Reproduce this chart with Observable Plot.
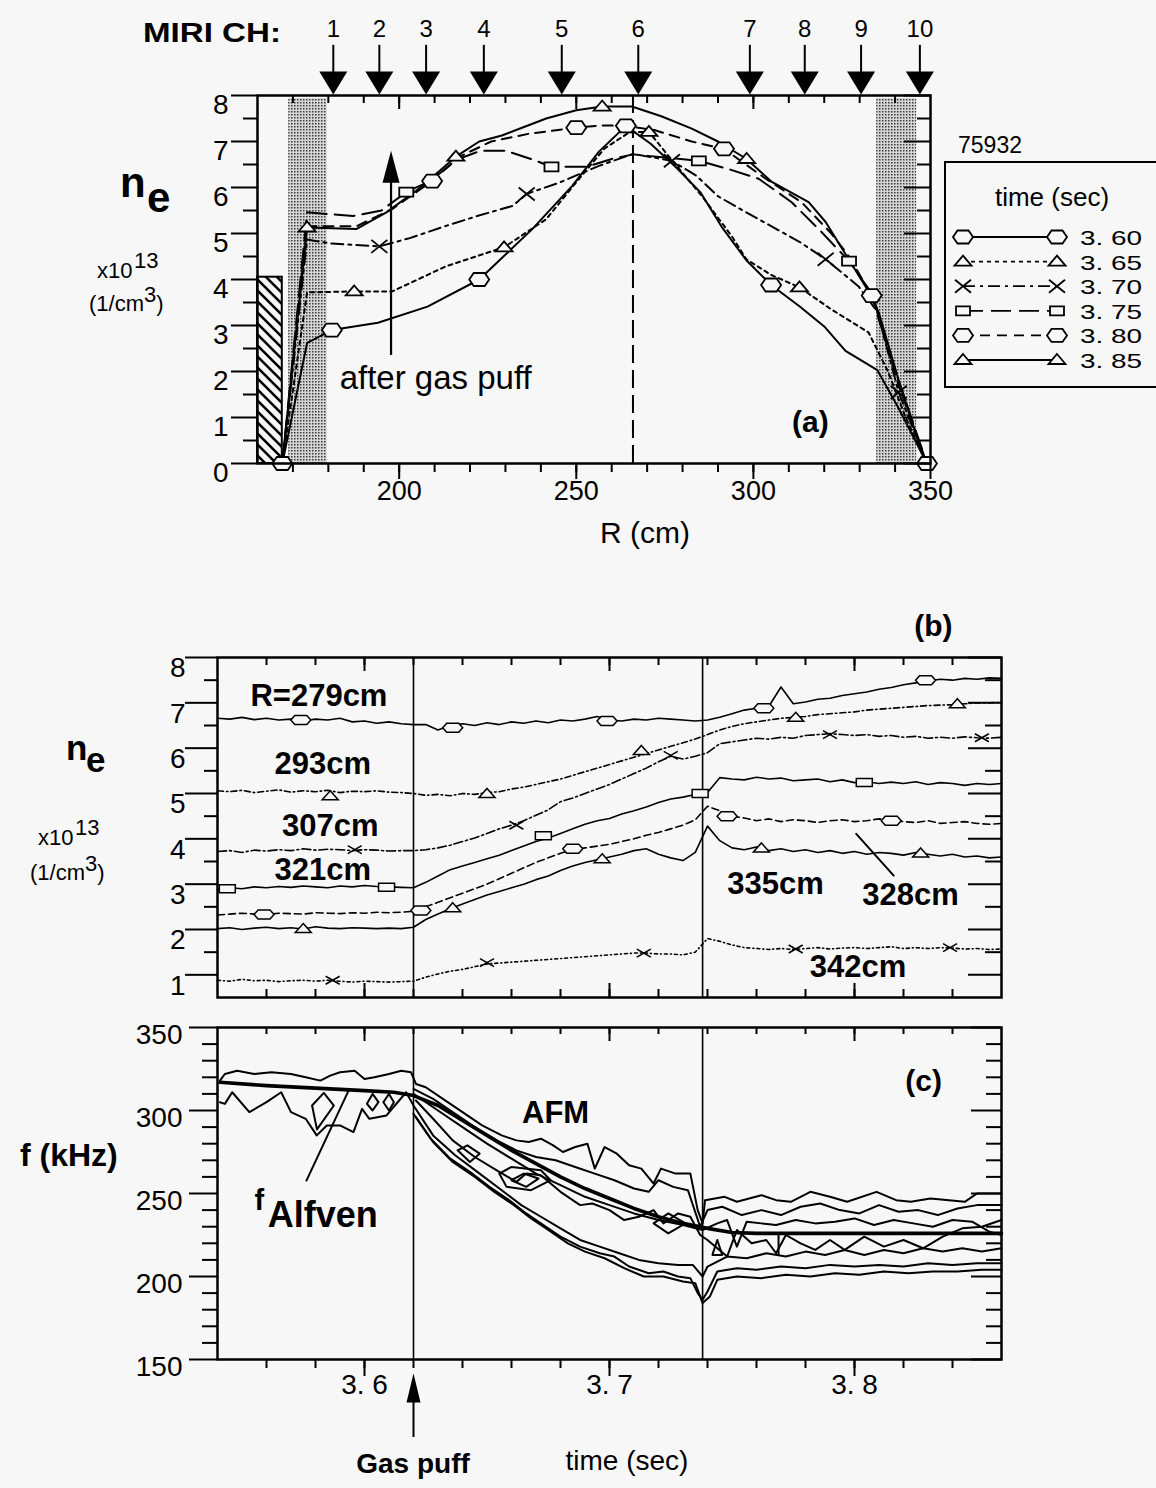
<!DOCTYPE html>
<html><head><meta charset="utf-8">
<script src="https://cdn.jsdelivr.net/npm/d3@7"></script>
<script src="https://cdn.jsdelivr.net/npm/@observablehq/plot@0.6"></script>
<style>
html,body{margin:0;padding:0;background:#f7f7f7;}
#page{position:relative;width:1156px;height:1488px;overflow:hidden;background:#f7f7f7;}
</style></head><body><div id="page"></div>
<script>
// ================= DATA =================
// ---- panel (a): density profiles ne(R) ----
const miriChannels = ["1","2","3","4","5","6","7","8","9","10"];
const miriR = [181.4,194.4,207.6,223.9,245.9,267.5,299.0,314.5,330.4,347.0];
const profileTimes = [3.60,3.65,3.70,3.75,3.80,3.85];
const prof360 = [[167,0],[174,2.62],[181,2.9],[194,3.06],[208,3.41],[222.6,4.0],[237.5,5.09],[248.8,6.03],[256.4,6.78],[264,7.34],[271,6.95],[278,6.45],[285,5.9],[291,5.15],[298,4.42],[305,3.88],[313,3.42],[320,2.98],[326,2.45],[335,2.03],[341,1.2],[349,0]];
const prof365 = [[167,0],[174,3.72],[187,3.74],[198,3.74],[213,4.28],[229.6,4.7],[241.5,5.31],[250.8,6.19],[258,6.85],[265,7.2],[270.5,7.21],[278,6.5],[285.5,5.81],[294,4.93],[298,4.44],[305,4.1],[313,3.83],[322,3.35],[332.5,2.85],[338,2.0],[343,1.0],[349,0]];
const prof370 = [[167,0],[174,4.87],[181,4.78],[194.4,4.72],[203,4.9],[213,5.16],[222,5.38],[232,5.6],[236,5.86],[245,6.1],[256.4,6.47],[266,6.73],[277,6.58],[284,6.25],[290,5.81],[297,5.5],[305,5.16],[313,4.82],[320.4,4.44],[329.7,3.85],[335,3.3],[341,1.55],[349,0]];
const prof375 = [[167,0],[174,5.46],[187,5.38],[195,5.5],[202,5.9],[209,6.15],[216,6.6],[223,6.8],[230,6.8],[238,6.6],[243,6.45],[253,6.45],[260,6.62],[266,6.72],[275,6.65],[284.6,6.58],[293,6.4],[301.5,6.19],[310.8,5.68],[319,5.05],[327,4.4],[333.4,3.7],[341,1.8],[349,0]];
const prof380 = [[167,0],[174,5.16],[188,5.16],[198,5.53],[209.3,6.14],[217,6.67],[226,7.0],[236.7,7.17],[250,7.3],[257,7.35],[264,7.34],[272,7.25],[282.6,7.0],[291.7,6.84],[303.5,6.19],[313.6,5.68],[322,5.0],[327,4.5],[333.4,3.65],[341,1.7],[349,0]];
const prof385 = [[167,0],[174,5.13],[188,5.1],[196.4,5.46],[206,6.0],[216,6.67],[222.6,7.0],[229,7.13],[241.5,7.5],[250,7.68],[257.3,7.76],[265.7,7.76],[274,7.55],[282.6,7.28],[290,7.0],[298.1,6.62],[305.2,6.12],[315.6,5.68],[320.4,5.25],[326.9,4.44],[333.4,3.63],[335.4,3.28],[341,1.81],[348.6,0]];
const mk360 = [[167,0],[181,2.9],[222.6,4.0],[264,7.34],[305,3.88],[349,0]];
const mk365 = [[187.3,3.74],[229.6,4.7],[270.5,7.21],[313,3.83]];
const mk370 = [[194.4,4.72],[236,5.86],[277,6.58],[320.4,4.44],[341,1.55]];
const mk375 = [[202,5.9],[243,6.45],[284.6,6.58],[327,4.4]];
const mk380 = [[209.3,6.14],[250,7.3],[291.7,6.84],[333.4,3.65]];
const mk385 = [[174,5.13],[216,6.67],[257.3,7.76],[298.1,6.62]];
const limiterBands = [[168.8,179.7],[334.8,346.1]];
const wallA = {r1:160, r2:167, top:4.05};
const centerR = [266];
const puffArrowA = {r:197.7, base:2.35, head:6.12, tip:6.8};
const neTicksA = [0,1,2,3,4,5,6,7,8];
const neMinorA = [0.5,1.5,2.5,3.5,4.5,5.5,6.5,7.5];
const rTicks = [170,180,190,200,210,220,230,240,250,260,270,280,290,300,310,320,330,340];
const rLabels = [200,250,300,350];

// ---- panel (b): ne(t) at several radii ----
const traceT = [3.540,3.545,3.550,3.555,3.560,3.565,3.570,3.575,3.580,3.585,3.590,3.595,3.600,3.605,3.610,3.615,3.620,
 3.625,3.630,3.635,3.640,3.645,3.650,3.655,3.660,3.665,3.670,3.675,3.680,3.685,3.690,3.695,3.700,3.705,3.710,3.715,3.720,3.725,3.730,3.735,3.740,
 3.745,3.750,3.755,3.760,3.765,3.770,3.775,3.780,3.785,3.790,3.795,3.800,3.805,3.810,3.815,3.820,3.825,3.830,3.835,3.840,3.845,3.850,3.855,3.860];
const ne279 = [6.66,6.64,6.68,6.63,6.66,6.62,6.64,6.60,6.64,6.62,6.66,6.58,6.60,6.55,6.58,6.54,6.52,
 6.52,6.40,6.50,6.54,6.50,6.56,6.52,6.58,6.55,6.60,6.56,6.62,6.60,6.64,6.70,6.62,6.60,6.64,6.62,6.66,6.64,6.62,6.60,6.62,
 6.68,6.76,6.84,6.88,6.92,7.35,6.98,7.02,7.08,7.10,7.16,7.20,7.24,7.30,7.34,7.40,7.44,7.48,7.52,7.50,7.54,7.52,7.55,7.54];
const ne293 = [5.06,5.04,5.07,5.02,5.05,5.08,5.03,5.06,5.04,5.07,5.02,5.05,5.04,5.06,5.03,5.02,5.00,
 4.96,4.98,4.95,5.00,4.98,5.02,5.04,5.10,5.14,5.20,5.26,5.32,5.40,5.48,5.56,5.64,5.72,5.80,5.88,5.96,6.04,6.12,6.20,6.30,
 6.40,6.48,6.54,6.58,6.62,6.66,6.68,6.70,6.74,6.76,6.78,6.80,6.84,6.86,6.88,6.90,6.92,6.94,6.95,6.96,6.98,7.00,7.00,7.01];
const ne307 = [3.72,3.74,3.70,3.75,3.73,3.76,3.74,3.78,3.75,3.77,3.76,3.74,3.76,3.75,3.73,3.74,3.74,
 3.76,3.80,3.86,3.94,4.02,4.12,4.22,4.30,4.40,4.52,4.64,4.82,4.90,5.00,5.10,5.20,5.32,5.44,5.56,5.70,5.82,5.76,5.82,5.90,
 6.10,6.14,6.18,6.22,6.20,6.24,6.22,6.28,6.30,6.32,6.30,6.28,6.30,6.26,6.28,6.24,6.26,6.22,6.24,6.22,6.25,6.23,6.22,6.24];
const ne321 = [2.88,2.92,2.90,2.94,2.92,2.95,2.93,2.96,2.94,2.92,2.96,2.94,2.97,2.95,2.94,2.93,2.92,
 3.04,3.18,3.32,3.40,3.48,3.56,3.64,3.74,3.84,3.94,4.02,4.12,4.22,4.32,4.40,4.45,4.55,4.62,4.70,4.80,4.88,4.92,4.98,5.02,
 5.35,5.32,5.30,5.36,5.32,5.34,5.28,5.30,5.32,5.26,5.30,5.24,5.26,5.22,5.25,5.22,5.26,5.20,5.24,5.22,5.18,5.22,5.20,5.22];
const ne328 = [2.32,2.34,2.36,2.34,2.33,2.36,2.35,2.34,2.37,2.36,2.35,2.37,2.36,2.38,2.37,2.38,2.40,
 2.50,2.60,2.70,2.80,2.90,3.00,3.12,3.24,3.36,3.48,3.58,3.68,3.76,3.80,3.84,3.88,3.94,4.00,4.08,4.14,4.22,4.30,4.42,4.72,
 4.62,4.50,4.46,4.40,4.44,4.38,4.42,4.40,4.36,4.40,4.42,4.38,4.40,4.44,4.40,4.38,4.36,4.40,4.34,4.36,4.38,4.34,4.32,4.34];
const ne335 = [2.02,2.04,2.00,2.03,2.05,2.02,2.04,2.01,2.06,2.03,2.02,2.04,2.03,2.02,2.03,2.02,2.05,
 2.22,2.34,2.46,2.56,2.66,2.76,2.84,2.92,3.00,3.10,3.18,3.30,3.40,3.48,3.54,3.60,3.66,3.74,3.78,3.66,3.58,3.52,3.70,4.28,
 3.96,3.80,3.76,3.82,3.74,3.78,3.72,3.76,3.70,3.74,3.68,3.72,3.66,3.70,3.68,3.64,3.70,3.66,3.62,3.66,3.60,3.62,3.58,3.60];
const ne342 = [0.88,0.86,0.90,0.87,0.88,0.85,0.87,0.88,0.86,0.88,0.86,0.84,0.86,0.85,0.84,0.85,0.86,
 0.95,1.02,1.08,1.12,1.18,1.24,1.26,1.28,1.30,1.32,1.34,1.36,1.38,1.40,1.42,1.44,1.46,1.48,1.48,1.46,1.46,1.44,1.50,1.80,
 1.74,1.66,1.60,1.58,1.56,1.58,1.56,1.58,1.60,1.57,1.59,1.60,1.58,1.60,1.62,1.58,1.60,1.58,1.60,1.59,1.57,1.58,1.56,1.57];
const mk279 = [[3.574,6.62],[3.636,6.45],[3.699,6.6],[3.763,6.88],[3.829,7.5]];
const mk293 = [[3.586,4.95],[3.650,5.0],[3.713,5.95],[3.776,6.68],[3.842,6.98]];
const mk307 = [[3.596,3.76],[3.662,4.3],[3.725,5.84],[3.790,6.30],[3.852,6.23]];
const mk321 = [[3.544,2.9],[3.609,2.93],[3.673,4.07],[3.737,5.0],[3.804,5.24]];
const mk328 = [[3.559,2.33],[3.623,2.42],[3.685,3.78],[3.748,4.5],[3.815,4.4]];
const mk335 = [[3.575,2.02],[3.636,2.48],[3.697,3.56],[3.762,3.8],[3.827,3.69]];
const mk342 = [[3.587,0.88],[3.650,1.27],[3.714,1.48],[3.776,1.57],[3.839,1.6]];
const eventTimes = [3.62, 3.738];
const neTicksB = [1,2,3,4,5,6,7,8];
const neMinorB = [1.5,2.5,3.5,4.5,5.5,6.5,7.5];
const timeTicks = [3.56,3.58,3.60,3.62,3.64,3.66,3.68,3.70,3.72,3.74,3.76,3.78,3.80,3.82,3.84];
const timeMajor = [3.6,3.7,3.8];
const labelsB = [
  {t:3.5814, v:7.14, s:"R=279cm"}, {t:3.583, v:5.66, s:"293cm"}, {t:3.586, v:4.29, s:"307cm"},
  {t:3.583, v:3.32, s:"321cm"}, {t:3.7678, v:3.0, s:"335cm"}, {t:3.8229, v:2.75, s:"328cm"},
  {t:3.8014, v:1.18, s:"342cm"}];
const pointer328 = [[3.8007,4.11],[3.816,3.19]];

// ---- panel (c): Alfven frequency and AFM contours ----
const fAlfven = [[3.541,317],[3.56,315],[3.58,313.5],[3.60,312],[3.612,311],[3.62,309],[3.63,303],[3.64,294],[3.65,285],[3.66,276],[3.67,268],[3.68,260],[3.69,253],[3.70,247],[3.71,241],[3.72,236],[3.73,232],[3.74,229],[3.75,226.5],[3.76,226],[3.78,226],[3.80,226],[3.82,226],[3.84,226],[3.86,226]];
const cTop = [[3.541,318],[3.543,322],[3.548,324],[3.555,322],[3.562,323],[3.570,322],[3.576,320],[3.582,318],[3.586,321],[3.590,323],[3.596,324],[3.600,319],[3.604,320],[3.610,322],[3.615,324],[3.619,323],[3.621,316],[3.625,314],[3.632,307],[3.640,299],[3.648,291],[3.656,285],[3.662,282],[3.667,281],[3.672,283],[3.677,279],[3.681,275],[3.686,278],[3.691,280],[3.694,265],[3.698,278],[3.703,274],[3.708,267],[3.713,265],[3.718,256],[3.721,265],[3.727,262],[3.733,262],[3.736,240],[3.738,232],[3.739,246],[3.747,248],[3.752,245],[3.762,249],[3.768,246],[3.774,245],[3.782,251],[3.790,248],[3.797,245],[3.809,251],[3.817,246],[3.823,245],[3.831,247],[3.845,245],[3.850,250],[3.860,250]];
const cSecond = [[3.620,313],[3.628,307],[3.636,299],[3.645,290],[3.654,282],[3.662,276],[3.670,272],[3.678,270],[3.686,266],[3.694,262],[3.702,258],[3.710,253],[3.716,251],[3.720,258],[3.726,254],[3.732,252],[3.737,230],[3.740,240],[3.746,242],[3.754,237],[3.762,240],[3.770,237],[3.778,242],[3.786,244],[3.794,240],[3.802,238],[3.810,243],[3.818,239],[3.826,240],[3.834,237],[3.842,241],[3.850,243],[3.860,243]];
const cMidA = [[3.620,310],[3.630,300],[3.640,290],[3.650,280],[3.660,271],[3.670,262],[3.680,255],[3.690,248],[3.700,243],[3.710,238],[3.720,234],[3.730,231],[3.738,228],[3.744,232],[3.748,234],[3.752,218],[3.756,233],[3.762,232],[3.768,231],[3.776,234],[3.784,232],[3.792,233],[3.800,235],[3.808,231],[3.816,234],[3.824,232],[3.832,230],[3.840,234],[3.848,233],[3.855,227],[3.860,225]];
const cMidB = [[3.621,306],[3.628,295],[3.636,282],[3.645,272],[3.655,263],[3.662,257],[3.666,262],[3.672,261],[3.680,251],[3.688,243],[3.693,244],[3.700,240],[3.706,234],[3.712,236],[3.718,240],[3.722,232],[3.728,238],[3.733,236],[3.737,225],[3.740,222],[3.748,212],[3.752,228],[3.758,220],[3.764,222],[3.768,214],[3.772,225],[3.778,220],[3.784,216],[3.790,222],[3.796,216],[3.804,224],[3.812,218],[3.820,222],[3.828,217],[3.836,224],[3.844,229],[3.852,230],[3.860,234]];
const cLow1 = [[3.541,305],[3.543,304],[3.546,311],[3.553,299],[3.560,305],[3.566,311],[3.570,299],[3.576,295],[3.5805,285],[3.5846,291],[3.590,291],[3.5955,287],[3.599,301],[3.602,295],[3.609,297],[3.617,311],[3.620,303],[3.628,285],[3.637,273],[3.647,262],[3.656,252],[3.664,243],[3.672,236],[3.680,229],[3.688,222],[3.696,218],[3.704,214],[3.712,210],[3.720,208],[3.728,207],[3.734,207],[3.738,200],[3.740,206],[3.748,212],[3.756,211],[3.764,214],[3.772,212],[3.780,215],[3.788,213],[3.796,216],[3.804,213],[3.812,216],[3.820,214],[3.828,217],[3.836,215],[3.844,217],[3.852,215],[3.860,217]];
const cLow2 = [[3.620,298],[3.627,283],[3.635,271],[3.643,263],[3.651,254],[3.659,246],[3.666,238],[3.673,231],[3.680,224],[3.688,218],[3.696,214],[3.702,212],[3.708,206],[3.716,202],[3.722,203],[3.728,200],[3.733,199],[3.736,190],[3.738,186],[3.740,191],[3.744,203],[3.752,205],[3.760,204],[3.770,206],[3.780,205],[3.790,207],[3.800,206],[3.810,207],[3.820,206],[3.830,208],[3.840,207],[3.850,208],[3.860,208]];
const cLow3 = [[3.621,296],[3.628,281],[3.636,269],[3.645,260],[3.653,251],[3.661,243],[3.668,235],[3.675,228],[3.683,220],[3.690,215],[3.698,211],[3.706,205],[3.714,200],[3.722,200],[3.730,197],[3.735,196],[3.738,184],[3.741,188],[3.744,198],[3.752,200],[3.762,199],[3.772,201],[3.782,200],[3.792,202],[3.802,201],[3.812,203],[3.822,202],[3.832,203],[3.842,203],[3.852,204],[3.860,204]];
const loopL1 = [[3.5786,303],[3.5834,310.6],[3.5875,303],[3.5806,288.6],[3.5786,303]];
const loopL2 = [[3.601,304],[3.6033,310],[3.6057,305],[3.6033,300],[3.601,304]];
const loopL3 = [[3.6077,305],[3.610,310],[3.612,305],[3.610,300],[3.6077,305]];
const loopM1 = [[3.638,276],[3.642,279],[3.647,274],[3.643,269],[3.638,276]];
const loopM2 = [[3.655,262],[3.660,266],[3.672,264],[3.676,258],[3.668,252],[3.658,254],[3.655,262]];
const loopM3 = [[3.660,258],[3.665,262],[3.671,259],[3.666,254],[3.660,258]];
const loopM4 = [[3.718,232],[3.724,238],[3.731,232],[3.724,226],[3.718,232]];
const loopR1 = [[3.742,213],[3.744,222],[3.746,213],[3.742,213]];
const spikeR = [[3.769,226],[3.769,213]];
const alfvenPointer = [[3.5935,312],[3.5763,257.8]];
const fTicks = [150,200,250,300,350];
const fMinor = [160,170,180,190,210,220,230,240,260,270,280,290,310,320,330,340];
const gasPuff = {t:3.62, base:103, head:124.1, tip:141.6};

// ================= STYLE / HELPERS =================
const BG = "#f7f7f7";
const FONT = "'Liberation Sans', Arial, Helvetica, sans-serif";
const page = document.getElementById("page");

function poly(pts) {
  return {draw(ctx) { ctx.moveTo(pts[0][0], pts[0][1]); for (let k = 1; k < pts.length; ++k) ctx.lineTo(pts[k][0], pts[k][1]); ctx.closePath(); }};
}
function cross(w, h) {
  return {draw(ctx) { ctx.moveTo(-w/2,-h/2); ctx.lineTo(w/2,h/2); ctx.moveTo(-w/2,h/2); ctx.lineTo(w/2,-h/2); }};
}
const hexA = poly([[-10,0],[-5.5,-6.5],[5.5,-6.5],[10,0],[5.5,6.5],[-5.5,6.5]]);
const triA = poly([[0,-6],[8.5,4],[-8.5,4]]);
const sqA = poly([[-7,-4.5],[7,-4.5],[7,4.5],[-7,4.5]]);
const xA = cross(16, 13);
const hexB = poly([[-10,0],[-6,-4.5],[6,-4.5],[10,0],[6,4.5],[-6,4.5]]);
const triB = poly([[0,-5],[8,4],[-8,4]]);
const sqB = poly([[-8,-4],[8,-4],[8,4],[-8,4]]);
const xB = cross(14, 8);
const headUpA = poly([[0,0],[8.5,32],[-8.5,32]]);
const headUpC = poly([[0,0],[7,29],[-7,29]]);
const headDown = poly([[0,0],[14,-23],[-14,-23]]);

const profSets = [prof360, prof365, prof370, prof375, prof380, prof385];
const profMarks = [mk360, mk365, mk370, mk375, mk380, mk385];
const profDash = [null, "4,4", "12,5,3,5", "20,8", "10,7", null];
const profSym = [hexA, triA, xA, sqA, hexA, triA];

const tLeftOut = (v, len, fw) => Plot.tickY(v, {y: d => d, insetLeft: -len, insetRight: fw, strokeWidth: 2});
const tRightIn = (v, len, fw) => Plot.tickY(v, {y: d => d, insetLeft: fw - len, insetRight: 0, strokeWidth: 2});
const tTopIn = (v, len, fh) => Plot.tickX(v, {x: d => d, insetTop: 0, insetBottom: fh - len, strokeWidth: 2});
const tBotOut = (v, len, fh) => Plot.tickX(v, {x: d => d, insetTop: fh, insetBottom: -len, strokeWidth: 2});
const tBotIn = (v, len, fh) => Plot.tickX(v, {x: d => d, insetTop: fh - len, insetBottom: 0, strokeWidth: 2});

function place(svg, top) {
  svg.style.position = "absolute";
  svg.style.left = "0px";
  svg.style.top = top + "px";
  svg.style.background = "transparent";
  svg.style.overflow = "visible";
  svg.style.maxWidth = "none";
  page.appendChild(svg);
}
const baseStyle = {fontFamily: FONT, fontSize: "27px", background: "transparent", overflow: "visible"};

// ================= PANEL (a) =================
const fwA = 673, fhA = 368;
const svgA = Plot.plot({
  width: 1156, height: 560, marginLeft: 257, marginRight: 226, marginTop: 95, marginBottom: 97,
  x: {domain: [160, 350], axis: null}, y: {domain: [0, 8], axis: null},
  style: baseStyle,
  marks: [
    Plot.rect(limiterBands, {x1: d => d[0], x2: d => d[1], y1: 0, y2: 8, fill: "url(#stip)", insetTop: 3}),
    Plot.rect([wallA], {x1: "r1", x2: "r2", y1: 0, y2: "top", fill: "url(#hatch)", stroke: "black", strokeWidth: 2}),
    Plot.ruleX(centerR, {stroke: "black", strokeWidth: 2, strokeDasharray: "18,7"}),
    ...profSets.map((p, i) => Plot.line(p, {stroke: "black", strokeWidth: 2, strokeDasharray: profDash[i]})),
    ...profMarks.map((m, i) => Plot.dot(m, {symbol: profSym[i], r: 10, fill: profSym[i] === xA ? "none" : BG, stroke: "black", strokeWidth: 1.8})),
    Plot.ruleX([puffArrowA], {x: "r", y1: "base", y2: "head", strokeWidth: 2.2}),
    Plot.dot([puffArrowA], {x: "r", y: "tip", symbol: headUpA, r: 10, fill: "black", stroke: "none"}),
    Plot.text(["after gas puff"], {x: 210.3, y: 1.85, fontSize: 33}),
    Plot.text(["(a)"], {x: 316.1, y: 0.89, fontSize: 30, fontWeight: "bold"}),
    Plot.ruleX(miriR, {x: d => d, y1: 8.5, y2: 9.09, strokeWidth: 2}),
    Plot.dot(miriR, {x: d => d, y: 8.02, symbol: headDown, r: 10, fill: "black", stroke: "none"}),
    Plot.text(miriChannels, {x: (d, i) => miriR[i], y: 9.446, text: d => d, fontSize: 24}),
    Plot.frame({stroke: "black", strokeWidth: 2.5}),
    tLeftOut(neTicksA, 26, fwA), tLeftOut(neMinorA, 14, fwA),
    tRightIn(neTicksA, 26, fwA), tRightIn(neMinorA, 13, fwA),
    tTopIn(rTicks, 8, fhA), tTopIn([200,250,300], 14, fhA),
    tBotOut(rTicks, 9, fhA), tBotOut(rLabels, 16, fhA),
    Plot.text(neTicksA, {y: d => d, text: d => String(d), frameAnchor: "left", dx: -29, dy: 10, textAnchor: "end", fontSize: 28}),
    Plot.text(rLabels, {x: d => d, text: d => String(d), frameAnchor: "bottom", dy: 36, fontSize: 27})
  ]
});
{
  const defs = d3.select(svgA).insert("defs", ":first-child");
  const st = defs.append("pattern").attr("id", "stip").attr("width", 3).attr("height", 3).attr("patternUnits", "userSpaceOnUse");
  st.append("rect").attr("width", 3).attr("height", 3).attr("fill", "#d6d6d6");
  st.append("rect").attr("width", 1.5).attr("height", 1.5).attr("fill", "#3a3a3a");
  const ht = defs.append("pattern").attr("id", "hatch").attr("width", 11).attr("height", 11).attr("patternUnits", "userSpaceOnUse");
  ht.append("rect").attr("width", 11).attr("height", 11).attr("fill", BG);
  ht.append("path").attr("d", "M-2,-2L13,13M-2,9L2,13M9,-2L13,2").attr("stroke", "black").attr("stroke-width", 2.6);
}
place(svgA, 0);

// ================= PANEL (b) =================
const fwB = 784, fhB = 340;
const traceSets = [ne279, ne293, ne307, ne321, ne328, ne335, ne342];
const traceDash = [null, "6,3,1.5,3", "9,3,2,3", null, "7,4", null, "3,3,1,3"];
const traceMarks = [mk279, mk293, mk307, mk321, mk328, mk335, mk342];
const traceSym = [hexB, triB, xB, sqB, hexB, triB, xB];
const svgB = Plot.plot({
  width: 1156, height: 420, marginLeft: 217, marginRight: 155, marginTop: 67, marginBottom: 13,
  x: {domain: [3.54, 3.86], axis: null}, y: {domain: [0.5, 8], axis: null},
  style: baseStyle,
  marks: [
    Plot.ruleX(eventTimes, {stroke: "black", strokeWidth: 1.6}),
    ...traceSets.map((v, i) => Plot.line(traceT.map((t, k) => [t, v[k]]), {stroke: "black", strokeWidth: 1.6, strokeDasharray: traceDash[i]})),
    ...traceMarks.map((m, i) => Plot.dot(m, {symbol: traceSym[i], r: 10, fill: traceSym[i] === xB ? "none" : BG, stroke: "black", strokeWidth: 1.5})),
    Plot.text(labelsB, {x: "t", y: "v", text: "s", fontSize: 31, fontWeight: "bold"}),
    Plot.line(pointer328, {stroke: "black", strokeWidth: 2}),
    Plot.text(["(b)"], {x: 3.8322, y: 8.68, fontSize: 30, fontWeight: "bold"}),
    Plot.frame({stroke: "black", strokeWidth: 2.5}),
    tLeftOut(neTicksB, 32, fwB), tLeftOut(neMinorB, 13, fwB),
    tRightIn(neTicksB, 33, fwB), tRightIn(neMinorB, 16, fwB),
    tTopIn(timeTicks, 8, fhB), tTopIn(timeMajor, 14, fhB),
    tBotIn(timeTicks, 8, fhB), tBotIn(timeMajor, 14, fhB),
    Plot.text(neTicksB, {y: d => d, text: d => String(d), frameAnchor: "left", dx: -32, dy: 11, textAnchor: "end", fontSize: 28})
  ]
});
place(svgB, 590);

// ================= PANEL (c) =================
const fwC = 784, fhC = 332;
const contours = [cTop, cSecond, cMidA, cMidB, cLow1, cLow2, cLow3, loopL1, loopL2, loopL3, loopM1, loopM2, loopM3, loopM4, loopR1, spikeR];
const svgC = Plot.plot({
  width: 1156, height: 483, marginLeft: 217, marginRight: 155, marginTop: 22, marginBottom: 129,
  x: {domain: [3.54, 3.86], axis: null}, y: {domain: [150, 350], axis: null},
  style: baseStyle,
  marks: [
    Plot.ruleX(eventTimes, {stroke: "black", strokeWidth: 1.6}),
    ...contours.map(c => Plot.line(c, {stroke: "black", strokeWidth: 2})),
    Plot.line(fAlfven, {stroke: "black", strokeWidth: 3.6}),
    Plot.line(alfvenPointer, {stroke: "black", strokeWidth: 2}),
    Plot.text(["f"], {x: 3.5571, y: 245.8, fontSize: 29, fontWeight: "bold"}),
    Plot.text(["Alfven"], {x: 3.5830, y: 236.7, fontSize: 36, fontWeight: "bold"}),
    Plot.text(["AFM"], {x: 3.678, y: 298.2, fontSize: 31, fontWeight: "bold"}),
    Plot.text(["(c)"], {x: 3.8282, y: 317.5, fontSize: 30, fontWeight: "bold"}),
    Plot.ruleX([gasPuff], {x: "t", y1: "base", y2: "head", strokeWidth: 2}),
    Plot.dot([gasPuff], {x: "t", y: "tip", symbol: headUpC, r: 10, fill: "black", stroke: "none"}),
    Plot.frame({stroke: "black", strokeWidth: 2.5}),
    tLeftOut(fTicks, 28, fwC), tLeftOut(fMinor, 15, fwC),
    tRightIn(fTicks, 30, fwC), tRightIn(fMinor, 15, fwC),
    tTopIn(timeTicks, 7, fhC), tTopIn(timeMajor, 14, fhC),
    tBotOut(timeTicks, 9, fhC), tBotOut(timeMajor, 17, fhC),
    Plot.text(fTicks, {y: d => d, text: d => String(d), frameAnchor: "left", dx: -35, dy: 8, textAnchor: "end", fontSize: 28}),
    Plot.text(timeMajor, {x: d => d, text: d => d.toFixed(1).replace(".", ". "), frameAnchor: "bottom", dy: 34, fontSize: 28})
  ]
});
place(svgC, 1005);

// ================= OVERLAY: titles & legend =================
const ov = d3.create("svg").attr("width", 1156).attr("height", 1488)
  .attr("font-family", FONT).style("position", "absolute").style("left", "0px").style("top", "0px")
  .style("overflow", "visible");
function txt(x, y, s, size, weight, anchor) {
  return ov.append("text").attr("x", x).attr("y", y).attr("font-size", size)
    .attr("font-weight", weight || "normal").attr("text-anchor", anchor || "start").text(s);
}
txt(143, 42, "MIRI CH:", 27, "bold").attr("textLength", 138).attr("lengthAdjust", "spacingAndGlyphs");
// panel (a) y title
txt(120, 197, "n", 42, "bold"); txt(147, 212, "e", 42, "bold");
txt(97, 278, "x10", 22); txt(134, 268, "13", 22);
{ const t = txt(89, 311, "(1/cm", 22); t.append("tspan").attr("dy", -9).text("3"); t.append("tspan").attr("dy", 9).text(")"); }
txt(645, 543, "R (cm)", 30, "normal", "middle");
// panel (b) y title
txt(66, 760, "n", 35, "bold"); txt(86, 772, "e", 35, "bold");
txt(38, 845, "x10", 22); txt(75, 835, "13", 22);
{ const t = txt(30, 880, "(1/cm", 22); t.append("tspan").attr("dy", -9).text("3"); t.append("tspan").attr("dy", 9).text(")"); }
// panel (c) titles
txt(20, 1166, "f (kHz)", 32, "bold");
txt(413, 1473, "Gas puff", 28, "bold", "middle");
txt(627, 1470, "time (sec)", 28, "normal", "middle");
// shot number and legend
txt(990, 153, "75932", 23, "normal", "middle");
ov.append("rect").attr("x", 945).attr("y", 162).attr("width", 240).attr("height", 225)
  .attr("fill", "none").attr("stroke", "black").attr("stroke-width", 2);
txt(1052, 206, "time (sec)", 26, "normal", "middle");
profileTimes.forEach((t, i) => {
  const y = 237 + i * 24.6;
  ov.append("line").attr("x1", 963).attr("x2", 1057).attr("y1", y).attr("y2", y)
    .attr("stroke", "black").attr("stroke-width", 1.8).attr("stroke-dasharray", profDash[i]);
  [963, 1057].forEach(x => {
    ov.append("path").attr("d", d3.symbol(profSym[i])()).attr("transform", `translate(${x},${y})`)
      .attr("fill", profSym[i] === xA ? "none" : BG).attr("stroke", "black").attr("stroke-width", 1.8);
  });
  txt(1080, y + 8, t.toFixed(2).replace(".", ". "), 21).attr("textLength", 62).attr("lengthAdjust", "spacingAndGlyphs");
});
page.appendChild(ov.node());
</script></body></html>
